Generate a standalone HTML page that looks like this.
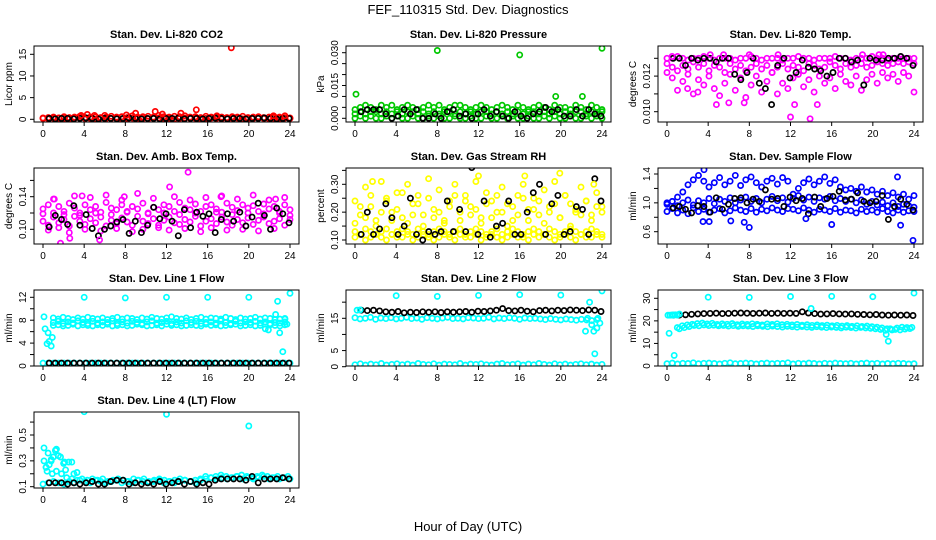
<!DOCTYPE html>
<html><head><meta charset="utf-8"><title>FEF_110315 Std. Dev. Diagnostics</title>
<style>
html,body{margin:0;padding:0;background:#fff;}
svg{display:block;font-family:"Liberation Sans",Arial,sans-serif;}
</style></head>
<body>
<svg id="chart" width="936" height="540" viewBox="0 0 936 540">
<rect width="936" height="540" fill="#fff"/>
<text x="468" y="14" text-anchor="middle" font-size="13">FEF_110315  Std. Dev. Diagnostics</text>
<text x="468" y="531" text-anchor="middle" font-size="13">Hour of Day (UTC)</text>
</svg>
<script>
// ---------- data ----------
const xTicks=[0,4,8,12,16,20,24];
// CO2
const co2Red=[0.3,0.4,0.5,0.3,0.6,0.4,0.5,0.7,0.4,0.5,0.6,0.4,0.5,0.7,0.5,0.6,0.4,0.8,0.5,0.6,0.7,0.5,0.9,0.6,0.5,0.7,0.6,0.8,0.5,0.6,0.4,0.7,0.5,0.6,0.5,0.4,0.6,0.5,0.7,0.4,0.5,0.6,0.4,0.5,0.6,0.5,0.4,0.3];
const co2Red2=[0.2,0.1,0.2,0.3,0.2,0.1,0.2,0.3,0.2,0.2,0.1,0.3,0.2,0.2,0.3,0.1,0.2,0.3,0.2,0.2,0.1,0.2,0.3,0.2,0.2,0.1,0.2,0.3,0.2,0.2,0.1,0.2,0.3,0.2,0.1,0.2,0.2,0.3,0.1,0.2,0.2,0.3,0.2,0.1,0.2,0.2,0.3,0.2];
const co2Black=[0.2,0.1,0.2,0.2,0.1,0.2,0.3,0.2,0.1,0.2,0.2,0.1,0.2,0.3,0.2,0.1,0.2,0.2,0.1,0.2,0.2,0.3,0.1,0.2,0.2,0.1,0.2,0.3,0.2,0.1,0.2,0.2,0.1,0.2,0.2,0.3,0.2,0.1,0.2,0.2];
const co2OutH=[18.3,14.9,10.9,9.0,13.4,4.3,5.0,16.9,22.4,11.6,3.7,8.1,6.0,23.5];
const co2OutV=[16.5,2.2,1.8,1.4,1.4,1.1,0.9,0.8,0.8,1.2,0.9,1.0,0.9,0.8];
// Pressure
const prG1=[0.004,0.005,0.006,0.005,0.004,0.006,0.005,0.006,0.004,0.005,0.006,0.005,0.004,0.005,0.006,0.005,0.006,0.004,0.005,0.006,0.006,0.005,0.004,0.005,0.006,0.005,0.004,0.005,0.006,0.005,0.004,0.006,0.005,0.004,0.005,0.006,0.005,0.004,0.006,0.005,0.005,0.004,0.006,0.005,0.004,0.006,0.005,0.004];
const prG2=[0.002,0.003,0.002,0.003,0.003,0.002,0.003,0.002,0.003,0.002,0.003,0.003,0.002,0.003,0.002,0.003,0.002,0.003,0.003,0.002,0.003,0.002,0.003,0.002,0.003,0.003,0.002,0.003,0.002,0.003,0.002,0.003,0.002,0.003,0.003,0.002,0.003,0.002,0.003,0.002,0.003,0.002,0.003,0.003,0.002,0.003,0.002,0.003];
const prG3=[0.000,0.001,0.000,0.001,0.000,0.000,0.001,0.000,0.001,0.000,0.000,0.001,0.000,0.000,0.001,0.000,0.001,0.000,0.000,0.001,0.000,0.000,0.001,0.000,0.000,0.001,0.000,0.000,0.001,0.000,0.001,0.000,0.000,0.001,0.000,0.000,0.001,0.000,0.001,0.000,0.000,0.001,0.000,0.000,0.001,0.000,0.001,0.000];
const prBlack=[0.003,0.004,0.004,0.004,0.002,0.000,0.001,0.004,0.002,0.004,0.000,0.000,0.002,0.000,0.003,0.004,0.001,0.002,0.000,0.002,0.004,0.001,0.003,0.001,0.000,0.003,0.001,0.000,0.002,0.003,0.005,0.003,0.004,0.001,0.001,0.004,0.001,0.004,0.002,0.001];
const prOutH=[8.0,16.0,24.0,0.1,19.5,22.1];
const prOutV=[0.031,0.029,0.032,0.011,0.010,0.010];
// Li-820 Temp
const tpM1=[0.0130,0.0130,0.0131,0.0130,0.0129,0.0130,0.0130,0.0131,0.0130,0.0129,0.0130,0.0130,0.0130,0.0129,0.0130,0.0130,0.0131,0.0130,0.0129,0.0130,0.0130,0.0130,0.0129,0.0130,0.0130,0.0131,0.0130,0.0130,0.0129,0.0130,0.0130,0.0130,0.0131,0.0130,0.0130,0.0129,0.0130,0.0130,0.0130,0.0131,0.0130,0.0130,0.0129,0.0130,0.0130,0.0130,0.0130,0.0130];
const tpM2=[0.0127,0.0125,0.0123,0.0126,0.0124,0.0128,0.0125,0.0127,0.0123,0.0126,0.0125,0.0122,0.0127,0.0124,0.0126,0.0123,0.0125,0.0127,0.0124,0.0126,0.0122,0.0125,0.0127,0.0124,0.0126,0.0125,0.0123,0.0127,0.0126,0.0124,0.0125,0.0128,0.0126,0.0124,0.0127,0.0125,0.0126,0.0127,0.0125,0.0126,0.0128,0.0127,0.0126,0.0127,0.0128,0.0127,0.0128,0.0127];
const tpM3=[0.0122,0.0119,0.0112,0.0117,0.0121,0.0110,0.0118,0.0115,0.0120,0.0113,0.0109,0.0116,0.0121,0.0112,0.0119,0.0108,0.0115,0.0120,0.0111,0.0117,0.0122,0.0110,0.0116,0.0113,0.0119,0.0121,0.0114,0.0118,0.0111,0.0120,0.0116,0.0119,0.0113,0.0121,0.0117,0.0115,0.0120,0.0112,0.0118,0.0121,0.0116,0.0122,0.0119,0.0121,0.0117,0.0122,0.0120,0.0111];
const tpBlack=[0.0130,0.0130,0.0126,0.0130,0.0129,0.0130,0.0130,0.0128,0.0130,0.0130,0.0121,0.0118,0.0122,0.0130,0.0116,0.0113,0.0104,0.0126,0.0130,0.0119,0.0122,0.0129,0.0125,0.0124,0.0123,0.0120,0.0122,0.0130,0.0130,0.0128,0.0129,0.0115,0.0130,0.0129,0.0129,0.0130,0.0130,0.0131,0.0130,0.0126];
const tpOutH=[12.0,13.9,4.8,7.5,12.4,14.6,6.0,4.2,5.5,8.0,10.8,19.0,20.6,21.0,0.5,2.0,3.0];
const tpOutV=[0.0097,0.0096,0.0104,0.0105,0.0104,0.0104,0.0105,0.0132,0.0132,0.0132,0.0132,0.0132,0.0132,0.0132,0.0131,0.0113,0.0111];
// Amb box temp
const abM1=[0.125,0.13,0.12,0.128,0.122,0.132,0.126,0.12,0.13,0.124,0.128,0.121,0.133,0.126,0.124,0.13,0.122,0.128,0.125,0.132,0.12,0.127,0.124,0.13,0.128,0.122,0.133,0.126,0.124,0.131,0.122,0.128,0.13,0.125,0.121,0.132,0.127,0.123,0.13,0.126,0.129,0.122,0.131,0.125,0.128,0.122,0.13,0.124];
const abM2=[0.11,0.105,0.115,0.108,0.112,0.104,0.116,0.11,0.106,0.113,0.108,0.115,0.104,0.111,0.107,0.114,0.109,0.105,0.116,0.11,0.107,0.113,0.105,0.111,0.115,0.108,0.106,0.112,0.109,0.116,0.104,0.11,0.113,0.107,0.115,0.109,0.105,0.112,0.108,0.114,0.106,0.111,0.115,0.107,0.11,0.113,0.105,0.112];
const abM3=[0.119,0.099,0.137,0.102,0.118,0.096,0.141,0.117,0.1,0.139,0.12,0.098,0.142,0.118,0.101,0.136,0.121,0.097,0.144,0.1,0.119,0.138,0.102,0.12,0.099,0.14,0.118,0.101,0.136,0.12,0.097,0.139,0.102,0.121,0.141,0.099,0.118,0.137,0.1,0.12,0.142,0.098,0.119,0.136,0.101,0.12,0.139,0.117];
const abBlack=[0.103,0.117,0.112,0.106,0.129,0.105,0.118,0.101,0.092,0.1,0.104,0.109,0.112,0.095,0.11,0.096,0.105,0.127,0.113,0.119,0.11,0.092,0.124,0.102,0.121,0.116,0.119,0.096,0.112,0.119,0.11,0.121,0.104,0.115,0.132,0.117,0.1,0.126,0.119,0.108];
const abOutH=[14.1,12.3,1.1,17.3,22.6,1.7,2.6,5.5,7.9,3.8];
const abOutV=[0.17,0.152,0.137,0.14,0.137,0.083,0.089,0.087,0.14,0.141];
// Gas stream RH
const rhY1=[0.13,0.12,0.14,0.13,0.12,0.13,0.14,0.12,0.13,0.14,0.13,0.12,0.14,0.13,0.12,0.13,0.14,0.13,0.12,0.13,0.14,0.12,0.13,0.14,0.13,0.12,0.13,0.14,0.12,0.13,0.14,0.13,0.12,0.13,0.14,0.13,0.12,0.14,0.13,0.12,0.13,0.14,0.13,0.12,0.13,0.14,0.13,0.12];
const rhY2=[0.11,0.12,0.10,0.11,0.12,0.11,0.10,0.12,0.11,0.11,0.12,0.10,0.11,0.12,0.11,0.10,0.11,0.12,0.11,0.10,0.12,0.11,0.11,0.12,0.10,0.11,0.12,0.11,0.10,0.11,0.12,0.11,0.11,0.10,0.12,0.11,0.12,0.11,0.10,0.11,0.12,0.11,0.10,0.12,0.11,0.11,0.12,0.11];
const rhY3=[0.24,0.19,0.29,0.22,0.17,0.31,0.25,0.2,0.27,0.18,0.3,0.23,0.26,0.19,0.32,0.21,0.28,0.17,0.24,0.3,0.2,0.26,0.22,0.31,0.18,0.27,0.24,0.2,0.29,0.23,0.17,0.26,0.3,0.21,0.25,0.19,0.28,0.22,0.31,0.18,0.26,0.23,0.2,0.29,0.24,0.19,0.27,0.22];
const rhY4=[0.16,0.22,0.18,0.26,0.15,0.2,0.24,0.17,0.21,0.27,0.16,0.19,0.23,0.15,0.25,0.18,0.2,0.16,0.22,0.26,0.17,0.24,0.19,0.21,0.16,0.23,0.18,0.26,0.2,0.15,0.22,0.19,0.25,0.17,0.21,0.24,0.16,0.2,0.23,0.18,0.26,0.15,0.21,0.19,0.24,0.17,0.22,0.2];
const rhBlack=[0.12,0.2,0.12,0.14,0.23,0.18,0.12,0.15,0.25,0.12,0.1,0.13,0.12,0.13,0.24,0.13,0.21,0.13,0.36,0.12,0.24,0.11,0.15,0.16,0.24,0.12,0.12,0.2,0.27,0.3,0.12,0.23,0.26,0.12,0.13,0.22,0.21,0.12,0.32,0.24];
const rhOutH=[12.0,16.5,19.9,1.7,23.2];
const rhOutV=[0.33,0.33,0.34,0.31,0.30];
// Sample flow
const sfB1=[0.88,0.92,0.86,0.9,0.85,0.93,0.88,0.91,0.87,0.9,0.92,0.86,0.89,0.93,0.9,0.88,0.92,0.87,0.91,0.89,0.93,0.9,0.88,0.92,0.91,0.89,0.93,0.9,0.87,0.91,0.9,0.88,0.92,0.87,0.9,0.89,0.86,0.91,0.88,0.9,0.87,0.92,0.88,0.86,0.9,0.87,0.89,0.88];
const sfB2=[0.98,1.02,0.96,1.0,1.04,0.97,1.03,1.0,1.06,0.99,1.05,1.02,1.07,1.0,1.04,1.08,1.02,1.06,1.0,1.05,1.09,1.03,1.07,1.01,1.06,1.1,1.04,1.08,1.02,1.07,1.05,1.09,1.03,1.06,1.02,1.05,1.0,1.04,0.98,1.02,0.97,1.01,0.96,1.0,0.95,0.98,0.96,0.94];
const sfB3=[1.0,1.02,1.08,1.15,1.25,1.32,1.38,1.3,1.22,1.28,1.35,1.25,1.3,1.38,1.24,1.32,1.36,1.28,1.22,1.3,1.34,1.26,1.35,1.3,1.12,1.2,1.28,1.33,1.25,1.3,1.36,1.27,1.32,1.22,1.18,1.2,1.16,1.22,1.15,1.18,1.12,1.16,1.1,1.14,1.08,1.12,1.05,1.1];
const sfBlack=[0.93,0.95,0.91,0.86,0.96,0.95,0.87,1.07,0.91,0.98,1.06,1.07,1.0,1.05,1.02,1.18,1.05,1.06,0.95,1.08,1.03,1.06,0.85,1.08,0.95,1.06,1.09,1.16,1.04,1.05,1.14,1.02,1.0,1.02,1.1,0.77,0.95,1.05,0.98,0.9];
const sfOutH=[23.9,16.0,8.0,7.5,22.7,13.5,3.5,6.2,4.1,3.6,22.4];
const sfOutV=[0.48,0.7,0.66,0.73,0.69,0.78,0.74,0.75,0.74,1.46,1.36];
// Line 1 flow
const l1C1=[8.4,8.2,8.5,8.3,8.1,8.4,8.2,8.5,8.3,8.2,8.4,8.1,8.3,8.5,8.2,8.4,8.3,8.1,8.4,8.2,8.5,8.3,8.2,8.4,8.6,8.3,8.2,8.4,8.1,8.3,8.5,8.2,8.4,8.3,8.2,8.5,8.3,8.1,8.4,8.2,8.3,8.5,8.2,8.4,8.3,8.1,8.2,8.3];
const l1C2=[7.6,7.8,7.4,7.7,7.5,7.9,7.6,7.4,7.8,7.5,7.7,7.6,7.9,7.4,7.7,7.5,7.8,7.6,7.4,7.7,7.9,7.5,7.6,7.8,7.4,7.7,7.5,7.9,7.6,7.8,7.4,7.6,7.7,7.5,7.9,7.6,7.4,7.8,7.5,7.7,7.6,7.8,7.5,7.7,7.4,7.6,7.5,7.7];
const l1C3=[7.1,7.2,7.0,7.1,7.3,7.0,7.2,7.1,7.0,7.2,7.1,7.3,7.0,7.1,7.2,7.0,7.1,7.3,7.2,7.0,7.1,7.2,7.0,7.3,7.1,7.2,7.0,7.1,7.2,7.1,7.0,7.3,7.1,7.2,7.0,7.1,7.2,7.3,7.0,7.1,7.2,7.0,7.1,7.3,7.2,7.1,7.0,7.2];
const l1Low=[0.5,0.5,0.5,0.5,0.5,0.5,0.5,0.5,0.5,0.5,0.5,0.5,0.5,0.5,0.5,0.5,0.5,0.5,0.5,0.5,0.5,0.5,0.5,0.5,0.5,0.5,0.5,0.5,0.5,0.5,0.5,0.5,0.5,0.5,0.5,0.5,0.5,0.5,0.5,0.5,0.5,0.5,0.5,0.5,0.5,0.5,0.5,0.5];
const l1Black=[0.5,0.5,0.5,0.5,0.5,0.5,0.5,0.5,0.5,0.5,0.5,0.5,0.5,0.5,0.5,0.5,0.5,0.5,0.5,0.5,0.5,0.5,0.5,0.5,0.5,0.5,0.5,0.5,0.5,0.5,0.5,0.5,0.5,0.5,0.5,0.5,0.5,0.5,0.5,0.5];
const l1OutH=[4,8,12,16,20,24,0.1,0.2,0.4,0.5,0.6,0.8,0.9,22.6,22.8,23.0,23.3,23.5,23.7,21.6,21.9];
const l1OutV=[12,11.9,12,12,12,12.7,8.6,6.5,3.9,5.8,4.3,3.5,5.0,9.0,11.3,5.8,2.5,8.2,7.3,6.5,6.3];
// Line 2 flow
const l2C1=[15.2,14.8,15.0,15.3,14.7,15.1,14.9,15.2,14.8,15.0,15.3,14.9,15.1,14.7,15.2,15.0,14.8,15.1,15.3,14.9,15.0,14.8,15.2,15.1,14.9,15.0,15.3,14.8,15.1,14.9,15.2,15.0,14.7,15.1,14.9,15.0,14.8,14.6,14.9,14.7,14.5,14.8,14.6,14.4,14.7,14.5,14.3,14.6];
const l2Low=[0.6,0.9,0.5,0.8,0.6,1.0,0.5,0.7,0.9,0.6,0.8,0.5,1.0,0.7,0.6,0.9,0.5,0.8,0.7,0.6,1.0,0.5,0.8,0.7,0.9,0.6,0.5,0.8,1.0,0.6,0.7,0.9,0.5,0.8,0.6,1.0,0.7,0.5,0.9,0.6,0.8,0.5,0.7,0.9,0.6,0.8,0.5,0.7];
const l2Black=[17.5,17.4,17.5,17.3,17.0,16.9,17.1,16.7,16.9,16.8,17.0,16.9,17.0,16.8,17.0,16.9,17.0,17.1,16.9,17.2,17.1,17.3,17.5,18.0,17.4,17.3,17.5,17.2,17.0,17.4,17.5,17.3,17.5,17.4,17.6,17.5,17.4,17.6,17.5,17.1];
const l2OutH=[4,8,12,16,20,24,0.2,0.5,22.4,22.8,23.0,23.2,23.3,23.5,23.6,23.8,22.6];
const l2OutV=[22,21.8,22.1,22.3,22.2,23.5,17.5,17.6,11.0,20.0,13.0,11.0,4.0,12.0,15.0,13.5,15.0];
// Line 3 flow
const l3C1=[17.0,17.8,18.2,18.5,18.8,19.0,18.6,18.9,18.4,18.7,18.5,18.8,18.3,18.6,18.4,18.7,18.5,18.2,18.6,18.4,18.7,18.3,18.5,18.2,18.4,18.1,18.3,18.0,18.2,17.9,18.1,17.8,18.0,17.7,17.9,17.6,17.8,17.5,17.7,17.4,17.2,16.9,16.5,16.0,16.8,17.2,17.0,17.1];
const l3C2=[16.5,17.0,17.5,18.0,17.8,18.2,17.9,18.1,17.8,18.0,17.7,17.9,17.6,17.8,17.7,17.5,17.8,17.6,17.4,17.7,17.5,17.3,17.6,17.4,17.2,17.5,17.3,17.1,17.4,17.2,17.0,17.3,17.1,16.9,17.2,17.0,16.8,17.1,16.9,16.7,16.5,16.2,15.8,16.5,16.2,16.0,16.4,16.6];
const l3Low=[1.0,1.3,0.9,1.2,1.1,1.4,1.0,1.2,1.3,1.1,0.9,1.2,1.4,1.0,1.1,1.3,1.2,0.9,1.1,1.3,1.0,1.2,1.1,1.4,0.9,1.2,1.0,1.3,1.1,0.9,1.2,1.0,1.3,1.1,1.0,1.2,0.9,1.1,1.3,1.0,1.2,0.9,1.1,1.0,1.2,1.1,0.9,1.0];
const l3Black=[22.5,22.6,22.7,22.9,23.1,23.2,23.3,23.4,23.2,23.3,23.4,23.5,23.4,23.3,23.4,23.5,23.3,23.4,23.3,23.4,23.3,24.0,23.5,23.2,23.0,23.1,23.2,23.1,23.0,23.1,22.9,22.8,22.7,22.8,22.6,22.5,22.6,22.5,22.6,22.4];
const l3OutH=[4,8,12,16,20,24,0.1,0.3,0.5,0.6,0.8,1.0,1.2,0.7,0.2,21.5,21.3,14.0];
const l3OutV=[30.5,30.4,30.8,30.9,30.7,32.3,22.5,22.5,22.6,22.5,22.7,22.6,23.0,4.7,14.5,11.0,14.0,25.5];
// Line 4 (LT) flow
const l4C1=[0.12,0.13,0.14,0.13,0.12,0.14,0.13,0.15,0.14,0.13,0.15,0.14,0.13,0.14,0.15,0.13,0.14,0.13,0.15,0.14,0.13,0.14,0.15,0.13,0.14,0.13,0.14,0.15,0.14,0.13,0.15,0.16,0.17,0.16,0.17,0.16,0.17,0.18,0.16,0.17,0.16,0.17,0.18,0.16,0.17,0.16,0.17,0.16];
const l4C2=[0.25,0.3,0.22,0.2,0.17,0.16,0.15,0.16,0.15,0.16,0.15,0.16,0.14,0.15,0.16,0.15,0.14,0.16,0.15,0.16,0.14,0.15,0.16,0.15,0.14,0.15,0.16,0.15,0.14,0.15,0.16,0.18,0.17,0.18,0.19,0.18,0.17,0.18,0.19,0.18,0.17,0.18,0.19,0.18,0.17,0.18,0.17,0.18];
const l4Black=[0.13,0.13,0.13,0.12,0.13,0.12,0.13,0.14,0.12,0.12,0.14,0.15,0.15,0.12,0.13,0.12,0.13,0.12,0.14,0.12,0.13,0.14,0.12,0.14,0.12,0.13,0.12,0.15,0.16,0.16,0.16,0.16,0.15,0.18,0.13,0.16,0.16,0.16,0.17,0.16];
const l4OutH=[4,12,20,0.1,0.1,0.3,0.5,0.6,0.8,1.0,1.2,1.3,1.5,1.7,2.0,2.2,2.5,2.8,3.0,3.3,0.4,0.9,2.1];
const l4OutV=[0.68,0.66,0.57,0.3,0.4,0.25,0.36,0.27,0.31,0.33,0.38,0.39,0.34,0.33,0.28,0.23,0.29,0.29,0.2,0.21,0.22,0.2,0.29];

// ---------- layout ----------
const NS='http://www.w3.org/2000/svg';
const svg=document.getElementById('chart');
const colX0=[43,355,667];
const rowTop=[46,168,290,412];
const boxH=76;
const hrScale=247/24;
function el(tag,attrs,parent){const e=document.createElementNS(NS,tag);for(const k in attrs)e.setAttribute(k,attrs[k]);(parent||svg).appendChild(e);return e;}
function xPos(col,h){return colX0[col]+h*hrScale;}

function panel(cfg){
  const g=el('g',{});
  
  
  const x0=colX0[cfg.col], top=rowTop[cfg.row];
  const L=x0-9, R=x0+256, B=top+boxH;
  const m=cfg.map;
  const yPos=v=>m[1]+(v-m[0])*(m[3]-m[1])/(m[2]-m[0]);
  const clip='clip'+cfg.name;
  const cp=el('clipPath',{id:clip},g);el('rect',{x:L,y:top,width:R-L,height:boxH},cp);
  const marks=el('g',{'clip-path':'url(#'+clip+')'},g);
  
  
  function dot(h,v,color){
    const c=el('circle',{cx:xPos(cfg.col,h).toFixed(1),cy:yPos(v).toFixed(1),r:2.6,fill:'none',stroke:color,'stroke-width':1.7},marks);
    
    
  }
  cfg.series.forEach(s=>{
    const n=s.vals.length;
    s.vals.forEach((v,i)=>dot(s.h0+(s.h1-s.h0)*i/(n-1),v,s.color));
  });
  cfg.pts.forEach(p=>p.hrs.forEach((h,i)=>dot(h,p.vals[i],p.color)));
  const box=el('rect',{x:L,y:top,width:R-L,height:boxH,fill:'none',stroke:'#000','stroke-width':1},g);
  
  
  const t=el('text',{x:(L+R)/2,y:top-8,'text-anchor':'middle','font-size':11,'font-weight':'bold'},g);
  t.textContent=cfg.title;
  
  
  el('line',{x1:xPos(cfg.col,0),x2:xPos(cfg.col,24),y1:B,y2:B,stroke:'#000'},g);
  xTicks.forEach(h=>{
    const x=xPos(cfg.col,h);
    el('line',{x1:x,x2:x,y1:B,y2:B+4,stroke:'#000'},g);
    const tl=el('text',{x:x,y:B+15,'text-anchor':'middle','font-size':10},g);
    tl.textContent=h;
    
    
  });
  const tk=cfg.ticks;
  el('line',{x1:L,x2:L,y1:yPos(tk[0]),y2:yPos(tk[tk.length-1]),stroke:'#000'},g);
  tk.forEach((v,i)=>{
    const y=yPos(v);
    el('line',{x1:L-4,x2:L,y1:y,y2:y,stroke:'#000'},g);
    if(cfg.labels[i]!==''){
      const yl=el('text',{x:L-8,y:y,'text-anchor':'middle','font-size':10,transform:'rotate(-90 '+(L-8)+' '+y+')'},g);
      yl.textContent=cfg.labels[i];
      
      
    }
  });
  const yt=el('text',{x:L-22,y:top+boxH/2,'text-anchor':'middle','font-size':10,transform:'rotate(-90 '+(L-22)+' '+(top+boxH/2)+')'},g);
  yt.textContent=cfg.ylab;
  
  
}

const K='#000',RED='#ff0000',GR='#00c800',MG='#ff00ff',YL='#ffff00',BL='#0000ff',CY='#00ffff';
panel({name:'panel-co2',col:0,row:0,title:'Stan. Dev. Li-820 CO2',ylab:'Licor ppm',map:[0,119.3,15,54.3],ticks:[0,5,10,15],labels:['0','5','10','15'],
 series:[{vals:co2Red,h0:0,h1:24,color:RED},{vals:co2Red2,h0:0,h1:24,color:RED},{vals:co2Black,h0:0.6,h1:23.9,color:K}],
 pts:[{hrs:co2OutH,vals:co2OutV,color:RED}]});
panel({name:'panel-pressure',col:1,row:0,title:'Stan. Dev. Li-820 Pressure',ylab:'kPa',map:[0,118.3,0.03,52.7],ticks:[0,0.005,0.01,0.015,0.02,0.025,0.03],labels:['0.000','','','0.015','','','0.030'],
 series:[{vals:prG1,h0:0,h1:24,color:GR},{vals:prG2,h0:0,h1:24,color:GR},{vals:prG3,h0:0,h1:24,color:GR},{vals:prBlack,h0:0.6,h1:23.9,color:K}],
 pts:[{hrs:prOutH,vals:prOutV,color:GR}]});
panel({name:'panel-li820-temp',col:2,row:0,title:'Stan. Dev. Li-820 Temp.',ylab:'degrees C',map:[0.010,111.7,0.013,58.3],ticks:[0.010,0.011,0.012,0.013],labels:['0.010','','0.012',''],
 series:[{vals:tpM1,h0:0,h1:24,color:MG},{vals:tpM2,h0:0,h1:24,color:MG},{vals:tpM3,h0:0,h1:24,color:MG},{vals:tpBlack,h0:0.6,h1:23.9,color:K}],
 pts:[{hrs:tpOutH,vals:tpOutV,color:MG}]});
panel({name:'panel-amb-box-temp',col:0,row:1,title:'Stan. Dev. Amb. Box Temp.',ylab:'degrees C',map:[0.10,229.3,0.14,196.7],ticks:[0.10,0.12,0.14,0.16],labels:['0.10','','0.14',''],
 series:[{vals:abM1,h0:0,h1:24,color:MG},{vals:abM2,h0:0,h1:24,color:MG},{vals:abM3,h0:0,h1:24,color:MG},{vals:abBlack,h0:0.6,h1:23.9,color:K}],
 pts:[{hrs:abOutH,vals:abOutV,color:MG}]});
panel({name:'panel-gas-rh',col:1,row:1,title:'Stan. Dev. Gas Stream RH',ylab:'percent',map:[0.10,240,0.30,184.3],ticks:[0.10,0.15,0.20,0.25,0.30,0.35],labels:['0.10','','0.20','','0.30',''],
 series:[{vals:rhY1,h0:0,h1:24,color:YL},{vals:rhY2,h0:0,h1:24,color:YL},{vals:rhY3,h0:0,h1:24,color:YL},{vals:rhY4,h0:0,h1:24,color:YL},{vals:rhBlack,h0:0.6,h1:23.9,color:K}],
 pts:[{hrs:rhOutH,vals:rhOutV,color:YL}]});
panel({name:'panel-sample-flow',col:2,row:1,title:'Stan. Dev. Sample Flow',ylab:'ml/min',map:[0.6,231.7,1.4,174],ticks:[0.6,0.8,1.0,1.2,1.4],labels:['0.6','','1.0','','1.4'],
 series:[{vals:sfB1,h0:0,h1:24,color:BL},{vals:sfB2,h0:0,h1:24,color:BL},{vals:sfB3,h0:0,h1:24,color:BL},{vals:sfBlack,h0:0.6,h1:23.9,color:K}],
 pts:[{hrs:sfOutH,vals:sfOutV,color:BL}]});
panel({name:'panel-line1-flow',col:0,row:2,title:'Stan. Dev. Line 1 Flow',ylab:'ml/min',map:[0,366,12,297.3],ticks:[0,2,4,6,8,10,12],labels:['0','','4','','8','','12'],
 series:[{vals:l1C1,h0:1,h1:23.5,color:CY},{vals:l1C2,h0:1,h1:23.5,color:CY},{vals:l1C3,h0:1,h1:23.5,color:CY},{vals:l1Low,h0:0,h1:24,color:CY},{vals:l1Black,h0:0.6,h1:23.9,color:K}],
 pts:[{hrs:l1OutH,vals:l1OutV,color:CY}]});
panel({name:'panel-line2-flow',col:1,row:2,title:'Stan. Dev. Line 2 Flow',ylab:'ml/min',map:[0,366.7,15,318.3],ticks:[0,5,10,15,20],labels:['0','5','','15',''],
 series:[{vals:l2C1,h0:0,h1:23.5,color:CY},{vals:l2Low,h0:0,h1:24,color:CY},{vals:l2Black,h0:0.6,h1:23.9,color:K}],
 pts:[{hrs:l2OutH,vals:l2OutV,color:CY}]});
panel({name:'panel-line3-flow',col:2,row:2,title:'Stan. Dev. Line 3 Flow',ylab:'ml/min',map:[0,366,30,298.3],ticks:[0,5,10,15,20,25,30],labels:['0','','10','','20','','30'],
 series:[{vals:l3C1,h0:1,h1:23.8,color:CY},{vals:l3C2,h0:1.2,h1:23.6,color:CY},{vals:l3Low,h0:0,h1:24,color:CY},{vals:l3Black,h0:0.6,h1:23.9,color:K}],
 pts:[{hrs:l3OutH,vals:l3OutV,color:CY}]});
panel({name:'panel-line4-flow',col:0,row:3,title:'Stan. Dev. Line 4 (LT) Flow',ylab:'ml/min',map:[0.1,486.7,0.5,435],ticks:[0.1,0.2,0.3,0.4,0.5,0.6],labels:['0.1','','0.3','','0.5',''],
 series:[{vals:l4C1,h0:0,h1:24,color:CY},{vals:l4C2,h0:0.3,h1:23.8,color:CY},{vals:l4Black,h0:0.6,h1:23.9,color:K}],
 pts:[{hrs:l4OutH,vals:l4OutV,color:CY}]});
</script>
</body></html>
